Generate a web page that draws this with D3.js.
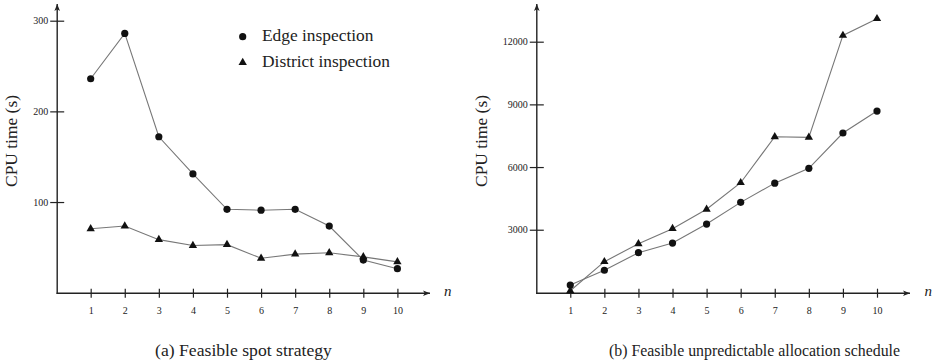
<!DOCTYPE html>
<html><head><meta charset="utf-8">
<script src="https://cdn.jsdelivr.net/npm/d3@7"></script>
<style>
html,body{margin:0;padding:0;background:#fff;}
svg{display:block;}
text{font-family:"Liberation Serif","Times New Roman",serif;fill:#222;}
</style></head>
<body>
<svg id="chart" width="940" height="362"></svg>
<script>
// ---- data ----
const nValues = [1,2,3,4,5,6,7,8,9,10];
const seriesNames = ["Edge inspection","District inspection"];
const edgeSpot = [236, 286, 172, 131, 92, 91, 92, 73.5, 36, 26.5];
const districtSpot = [70.5, 73.5, 58.5, 52, 53, 38, 42.5, 44, 39.5, 34];
const edgeSchedule = [350, 1060, 1900, 2360, 3270, 4310, 5230, 5940, 7630, 8680];
const districtSchedule = [80, 1470, 2330, 3050, 3980, 5250, 7450, 7420, 12300, 13100];
const yTicksSpot = [100, 200, 300];
const yTicksSchedule = [3000, 6000, 9000, 12000];
const captions = ["(a) Feasible spot strategy", "(b) Feasible unpredictable allocation schedule"];
const yLabel = "CPU time (s)";

const svg = d3.select("#chart");
const defs = svg.append("defs");
defs.append("marker").attr("id","arrow").attr("viewBox","0 0 10 10")
  .attr("refX",10).attr("refY",5).attr("markerWidth",7).attr("markerHeight",7)
  .attr("markerUnits","userSpaceOnUse").attr("orient","auto")
  .append("path").attr("d","M0,1 L10,5 L0,9 L2.5,5 Z").attr("fill","#222");

// scale a text's font-size so that its rendered width equals target
function fitWidth(sel, target) {
  sel.each(function(){
    const fs = parseFloat(this.getAttribute("font-size"));
    const w = this.getComputedTextLength();
    if (w > 0) this.setAttribute("font-size", (fs*target/w).toFixed(2));
  });
}

const panels = [
  {x0:56.6, axisEnd:430, nLabelX:447.7, yZero:292.7, yTopVal:300, yTopPx:20.7, ticks:yTicksSpot,
   edge:edgeSpot, district:districtSpot, caption:captions[0], capX:243.5, capW:177, ylabX:12.7, legend:true},
  {x0:536.2, axisEnd:910, nLabelX:928.3, yZero:292.4, yTopVal:12000, yTopPx:41.7, ticks:yTicksSchedule,
   edge:edgeSchedule, district:districtSchedule, caption:captions[1], capX:754.5, capW:291, ylabX:482.7, legend:false}
];

const step = 34.08;
panels.forEach(p => {
  const x = d3.scaleLinear().domain([0,10]).range([p.x0, p.x0 + 10*step]);
  const y = d3.scaleLinear().domain([0,p.yTopVal]).range([p.yZero, p.yTopPx]);
  const g = svg.append("g");
  const axY = 293.2;

  // x axis
  const xa = g.append("g").attr("transform",`translate(0,${axY})`)
    .call(d3.axisBottom(x).tickValues(nValues).tickSize(4.5).tickPadding(9));
  xa.select(".domain").remove();
  xa.selectAll(".tick line").attr("y1",-4.5).attr("y2",4.5).attr("stroke","#222").attr("stroke-width",1.2);
  xa.selectAll(".tick text").attr("font-size",10).attr("fill","#333");
  g.append("line").attr("x1",p.x0).attr("x2",p.axisEnd).attr("y1",axY).attr("y2",axY)
    .attr("stroke","#222").attr("stroke-width",1.4).attr("marker-end","url(#arrow)");
  g.append("text").attr("x",p.nLabelX).attr("y",axY+3).attr("font-style","italic")
    .attr("font-size",15).attr("text-anchor","middle").text("n");

  // y axis
  const ya = g.append("g").attr("transform",`translate(${p.x0+0.6},0)`)
    .call(d3.axisLeft(y).tickValues(p.ticks).tickSize(7).tickPadding(3).tickFormat(d3.format("d")));
  ya.select(".domain").remove();
  ya.selectAll(".tick line").attr("x1",-7).attr("x2",7).attr("stroke","#222").attr("stroke-width",1.2);
  ya.selectAll(".tick text").attr("font-size",10).attr("fill","#333").attr("x",-9);
  if (p.legend === false) fitWidth(ya.selectAll(".tick text").filter(d=>d===12000), 30.5);
  const ts = ya.select(".tick text").attr("font-size");
  ya.selectAll(".tick text").attr("font-size", ts);
  xa.selectAll(".tick text").attr("font-size", ts);
  g.append("line").attr("x1",p.x0+0.6).attr("x2",p.x0+0.6).attr("y1",axY+0.7).attr("y2",4)
    .attr("stroke","#222").attr("stroke-width",1.4).attr("marker-end","url(#arrow)");
  const yl = g.append("text").attr("transform",`translate(${p.ylabX+4},141) rotate(-90)`)
    .attr("text-anchor","middle").attr("font-size",13).text(yLabel);
  fitWidth(yl, 92);

  // lines
  const line = d3.line().x((d,i)=>x(nValues[i])).y(d=>y(d));
  [p.edge, p.district].forEach(s => {
    g.append("path").datum(s).attr("d",line).attr("fill","none")
      .attr("stroke","#777").attr("stroke-width",1.1);
  });
  // markers
  g.selectAll(".circ").data(p.edge).enter().append("circle")
    .attr("cx",(d,i)=>x(nValues[i])).attr("cy",d=>y(d)).attr("r",3.6).attr("fill","#111");
  const tri = d3.symbol().type(d3.symbolTriangle).size(30);
  g.selectAll(".tri").data(p.district).enter().append("path")
    .attr("d",tri).attr("transform",(d,i)=>`translate(${x(nValues[i])},${y(d)})`).attr("fill","#111");

  // caption
  const cap = g.append("text").attr("x",p.capX).attr("y",356).attr("text-anchor","middle")
    .attr("font-size",12).text(p.caption);
  fitWidth(cap, p.capW);

  if (p.legend) {
    const lg = g.append("g");
    lg.append("circle").attr("cx",242.7).attr("cy",36.7).attr("r",3.6).attr("fill","#111");
    lg.append("path").attr("d",d3.symbol().type(d3.symbolTriangle).size(30)())
      .attr("transform","translate(242.7,62.5)").attr("fill","#111");
    lg.append("text").attr("x",262).attr("y",41).attr("font-size",14).text(seriesNames[0]);
    const t2 = lg.append("text").attr("x",262).attr("y",66.5).attr("font-size",14).text(seriesNames[1]);
    fitWidth(t2, 128);
    lg.selectAll("text").attr("font-size", t2.attr("font-size"));
  }
});
</script>
</body></html>
